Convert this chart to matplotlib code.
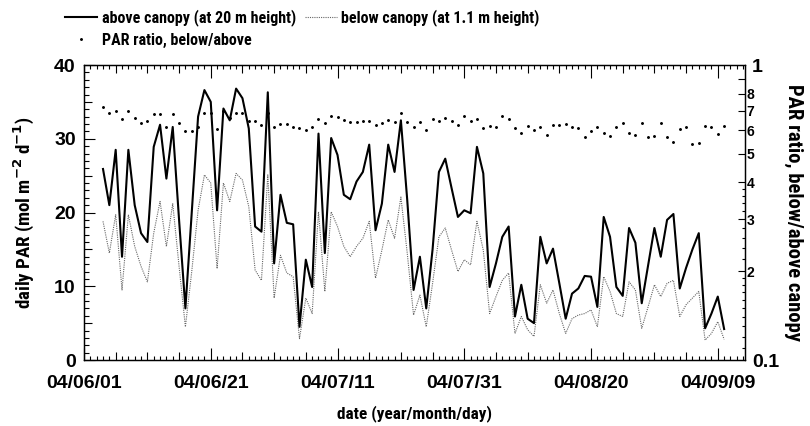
# -*- coding: utf-8 -*-
"""
Daily PAR above / below canopy and their ratio
"""
import pandas as pd
import matplotlib
matplotlib.use("Agg")
import matplotlib.pyplot as plt
import matplotlib.dates as mdates
from matplotlib import font_manager
from matplotlib.lines import Line2D
from matplotlib.ticker import FixedLocator, FixedFormatter

# %% DATA
first_day = "2004-06-04"

above = [25.9, 21.0, 28.5, 14.0, 28.5, 21.0, 17.2, 16.0, 28.9, 31.9,
         24.6, 31.6, 19.0, 7.0, 20.0, 33.0, 36.6, 35.0, 20.3, 34.1,
         32.5, 36.8, 35.5, 31.4, 18.1, 17.4, 36.3, 13.1, 22.4, 18.6,
         18.4, 4.5, 13.6, 9.9, 30.7, 14.5, 30.1, 27.8, 22.4, 21.8,
         24.2, 25.5, 29.2, 17.6, 21.2, 29.2, 25.5, 32.5, 21.7, 9.5,
         14.0, 7.0, 15.0, 25.5, 27.3, 23.3, 19.4, 20.3, 19.9, 28.9,
         25.3, 9.9, 13.1, 16.7, 18.1, 5.9, 10.2, 5.6, 5.0, 16.7,
         13.1, 15.1, 10.4, 5.6, 9.0, 9.7, 11.4, 11.3, 7.2, 19.4,
         16.7, 9.9, 8.7, 17.9, 15.9, 7.7, 12.8, 17.9, 14.0, 19.0,
         19.8, 9.7, 12.5, 15.0, 17.2, 4.3, 6.3, 8.6, 4.2]

below = [18.8, 14.5, 19.7, 9.5, 19.7, 15.4, 12.7, 10.6, 17.2, 21.5,
         15.4, 21.2, 12.7, 4.5, 12.0, 20.3, 25.1, 24.0, 12.4, 24.0,
         21.5, 25.3, 24.4, 20.8, 12.2, 10.8, 25.1, 8.4, 14.2, 11.8,
         11.3, 2.9, 8.4, 6.3, 20.1, 9.3, 20.1, 18.1, 15.4, 14.0,
         15.4, 16.5, 18.8, 11.1, 14.9, 19.0, 16.5, 22.1, 14.5, 6.1,
         8.8, 4.5, 10.4, 16.7, 17.9, 14.9, 12.0, 13.6, 12.9, 18.8,
         14.9, 6.3, 8.6, 10.8, 11.8, 3.6, 5.9, 4.1, 3.2, 10.2,
         7.7, 9.5, 6.3, 3.6, 5.6, 6.1, 6.3, 6.8, 4.5, 11.3,
         9.3, 6.3, 5.9, 10.6, 9.5, 4.3, 7.2, 10.2, 8.6, 10.4,
         10.8, 5.9, 7.5, 8.4, 9.3, 2.7, 3.6, 5.2, 2.8]

ratio = [.722, .686, .699, .654, .699, .659, .638, .646, .681, .681,
         .618, .681, .634, .599, .599, .615, .689, .685, .607, .700,
         .660, .690, .689, .646, .646, .626, .690, .615, .631, .631,
         .618, .610, .602, .618, .654, .634, .672, .668, .651, .643,
         .643, .646, .648, .626, .634, .651, .643, .686, .643, .618,
         .643, .602, .654, .646, .659, .646, .626, .672, .648, .654,
         .610, .621, .615, .672, .654, .610, .587, .621, .602, .615,
         .579, .626, .626, .631, .618, .610, .569, .599, .618, .587,
         .575, .618, .638, .587, .578, .634, .569, .574, .638, .572,
         .550, .608, .615, .539, .543, .621, .615, .584, .621]

date_labels = ["04/06/01", "04/06/21", "04/07/11", "04/07/31",
               "04/08/20", "04/09/09"]
ratio_ticks = [0.2, 0.3, 0.4, 0.5, 0.6, 0.7, 0.8, 0.9]
ratio_labels = ["2", "3", "4", "5", "6", "7", "8", ""]
ratio_small = [0.11, 0.12, 0.13, 0.14, 0.15, 0.16, 0.17, 0.18, 0.19,
               0.22, 0.24, 0.26, 0.28, 0.32, 0.34, 0.36, 0.38]

dates = pd.date_range(first_day, periods=len(above), freq="D")

# %% FONTS
# ticks use a plain bold sans, titles/legend a narrow bold one if available
plt.rcParams["font.family"] = ["Liberation Sans", "DejaVu Sans"]
plt.rcParams["font.weight"] = "bold"
plt.rcParams["axes.labelweight"] = "bold"

prefer = ["liberationsansnarrow", "roboto", "noto", "opensans", "lato",
          "inter", "dejavu"]
narrow, best = None, len(prefer) + 1
for f in font_manager.fontManager.ttflist:
    if f.weight not in ("bold", 700, "700"):
        continue
    tag = (f.name + str(f.stretch) + f.fname).lower().replace(" ", "")
    if "narrow" not in tag and "condensed" not in tag:
        continue
    if "semi" in tag or "extra" in tag or "ultra" in tag or "italic" in tag:
        continue
    rank = next((i for i, p in enumerate(prefer) if p in tag), len(prefer))
    if rank < best:
        narrow, best = f.fname, rank

# DejaVu condensed is still wide, shrink it to keep the text widths
scale = 0.82 if (narrow is None or "dejavu" in narrow.lower()) else 1.0


def narrow_font(size):
    if narrow:
        return font_manager.FontProperties(fname=narrow, size=size * scale)
    return font_manager.FontProperties(family="Liberation Sans",
                                       weight="bold", size=size * 0.72)


# %% PLOTTING
fig = plt.figure(figsize=(8.1, 4.26), dpi=100)
ax = fig.add_axes([0.1037, 0.1549, 0.8161, 0.6925])
ax2 = ax.twinx()

ax.plot(dates, above, color="black", lw=1.5, zorder=3)
ax.plot(dates, below, color="0.4", lw=0.8, ls=(0, (1, 1)), zorder=2)
ax2.plot(dates, ratio, ls="none", marker=".", ms=2.2, color="black")

# x axis: daily, 5-day and 20-day ticks
x0 = mdates.date2num(pd.Timestamp("2004-06-01"))
ax.set_xlim(x0, x0 + 104.3)
five = [x0 + 5 * i for i in range(21)]
ax.xaxis.set_major_locator(FixedLocator(five))
ax.xaxis.set_major_formatter(FixedFormatter(
    [date_labels[i // 4] if i % 4 == 0 else "" for i in range(21)]))
ax.xaxis.set_minor_locator(FixedLocator([x0 + i for i in range(105)]))
ax.tick_params(axis="x", which="both", direction="in", top=True,
               labelsize=14, pad=11)
ax.tick_params(axis="x", which="minor", length=3, width=0.8)
for i, t in enumerate(ax.xaxis.get_major_ticks()):
    size = 9 if i % 4 == 0 else 6
    for ln in (t.tick1line, t.tick2line):
        ln.set_markersize(size)
        ln.set_markeredgewidth(0.8)

# left axis
ax.set_ylim(0, 40)
ax.yaxis.set_major_locator(FixedLocator(range(0, 41, 5)))
ax.yaxis.set_major_formatter(FixedFormatter(
    [str(v) if v % 10 == 0 else "" for v in range(0, 41, 5)]))
ax.yaxis.set_minor_locator(FixedLocator(range(0, 41)))
ax.tick_params(axis="y", which="both", direction="in", labelsize=14, pad=6)
ax.tick_params(axis="y", which="minor", length=3.5, width=0.8)
for i, t in enumerate(ax.yaxis.get_major_ticks()):
    t.tick1line.set_markersize(8 if i % 2 == 0 else 6)
    t.tick1line.set_markeredgewidth(0.8)

# right axis, log scale
ax2.set_yscale("log")
ax2.set_ylim(0.1, 1)
ax2.yaxis.set_major_locator(FixedLocator([0.1, 1]))
ax2.yaxis.set_major_formatter(FixedFormatter(["0.1", "1"]))
ax2.yaxis.set_minor_locator(FixedLocator(ratio_ticks + ratio_small))
ax2.yaxis.set_minor_formatter(FixedFormatter(ratio_labels))
ax2.tick_params(axis="y", which="major", direction="in", length=0,
                labelsize=14, pad=5)
ax2.tick_params(axis="y", which="minor", direction="in", length=2.5,
                width=0.8, labelsize=10, pad=1)
for t in ax2.yaxis.get_minor_ticks()[:len(ratio_ticks)]:
    t.tick2line.set_markersize(5)

for a in (ax, ax2):
    for s in a.spines.values():
        s.set_linewidth(0.9)

ax.set_xlabel("date (year/month/day)", fontproperties=narrow_font(12.4),
              labelpad=9)
ax.set_ylabel("daily PAR (mol m$^{\\mathbf{-2}}$ d$^{\\mathbf{-1}}$)",
              fontproperties=narrow_font(13.6), labelpad=13)
ax2.set_ylabel("PAR ratio, below/above canopy",
               fontproperties=narrow_font(14.9), rotation=270, labelpad=17)

handles = [
    Line2D([], [], color="black", lw=1.5),
    Line2D([], [], ls="none", marker=".", ms=2.2, color="black"),
    Line2D([], [], color="0.4", lw=0.8, ls=(0, (1, 1))),
]
labels = ["above canopy (at 20 m height)", "PAR ratio, below/above",
          "below canopy (at 1.1 m height)"]
fig.legend(handles, labels, loc="upper left", bbox_to_anchor=(0.08, 0.978),
           ncol=2, frameon=False, prop=narrow_font(11.5), handlelength=2.0,
           handletextpad=0.3, columnspacing=0.55, labelspacing=0.4,
           borderpad=0, borderaxespad=0)

fig.savefig("out.png", dpi=100)
